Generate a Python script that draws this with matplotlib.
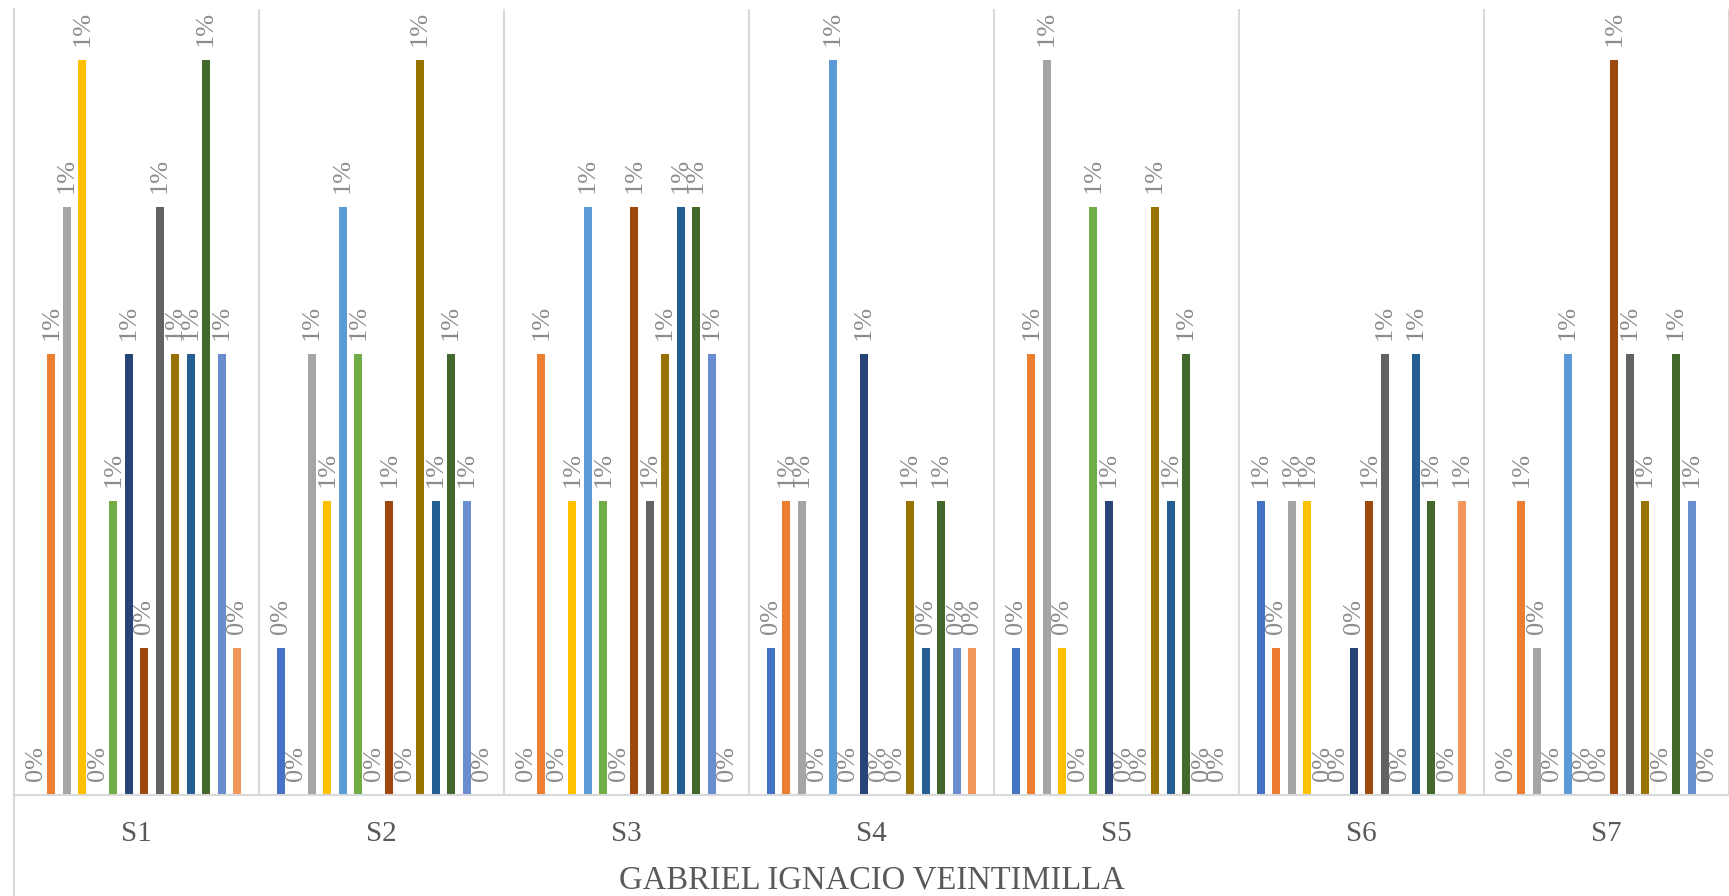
import matplotlib
matplotlib.use('agg')
import matplotlib.pyplot as plt
from matplotlib.lines import Line2D
import numpy as np

# categories and per-category counts (14 series each)
categories = ['S1', 'S2', 'S3', 'S4', 'S5', 'S6', 'S7']
s1 = [0, 3, 4, 5, 0, 2, 3, 1, 4, 3, 3, 5, 3, 1]
s2 = [1, 0, 3, 2, 4, 3, 0, 2, 0, 5, 2, 3, 2, 0]
s3 = [0, 3, 0, 2, 4, 2, 0, 4, 2, 3, 4, 4, 3, 0]
s4 = [1, 2, 2, 0, 5, 0, 3, 0, 0, 2, 1, 2, 1, 1]
s5 = [1, 3, 5, 1, 0, 4, 2, 0, 0, 4, 2, 3, 0, 0]
s6 = [2, 1, 2, 2, 0, 0, 1, 2, 3, 0, 3, 2, 0, 2]
s7 = [0, 2, 1, 0, 3, 0, 0, 5, 3, 2, 0, 3, 2, 0]
total = 360

colors = ['#4472C4', '#ED7D31', '#A5A5A5', '#FFC000', '#5B9BD5', '#70AD47',
          '#264478', '#9E480E', '#636363', '#997300', '#255E91', '#43682B',
          '#698ED0', '#F1975A']

title = 'GABRIEL IGNACIO VEINTIMILLA'

values = np.array([s1, s2, s3, s4, s5, s6, s7]).T / total  # series x category

plt.rcParams['font.family'] = ['Liberation Serif', 'DejaVu Serif']
W, H = 1729, 896
fig = plt.figure(figsize=(W / 100, H / 100), dpi=100)
left, bottom, top = 14, 795, 9
ax = fig.add_axes([left / W, (H - bottom) / H, (W - left) / W, (bottom - top) / H])

n = values.shape[0]
slot = 15.46 / 245
bar_w = 8 / 245
x = np.arange(len(categories))
grid_c = '#D9D9D9'

for k in np.arange(-0.5, len(categories), 1.0):
    ax.axvline(k, color=grid_c, lw=1.5, zorder=0)

for j in range(n):
    xs = x + (j - (n - 1) / 2) * slot
    bars = ax.bar(xs, values[j], width=bar_w, color=colors[j], zorder=2)
    for b, v in zip(bars, values[j]):
        ax.annotate('{:.0%}'.format(v), (b.get_x() + b.get_width() / 2, v),
                    xytext=(0, 10), textcoords='offset points',
                    rotation=90, ha='center', va='bottom',
                    fontsize=19, color='#8C8C8C', zorder=3)

ax.set_xlim(-0.5, len(categories) - 0.5)
ax.set_ylim(0, 5.347 / total)
ax.set_yticks([])
ax.set_xticks(x)
ax.set_xticklabels(categories, fontsize=21, color='#595959')
ax.tick_params(axis='x', length=0, pad=19)
for side in ['top', 'right', 'left']:
    ax.spines[side].set_visible(False)
ax.spines['bottom'].set_color(grid_c)
ax.spines['bottom'].set_linewidth(1.5)

# left boundary line running down through the label area
fig.add_artist(Line2D([left / W, left / W], [0, (H - top) / H],
                      color=grid_c, lw=1.5))

fig.text((left + W) / 2 / W, (H - 880) / H, title, ha='center', va='center',
         fontsize=23.5, color='#595959')

fig.savefig('out.png', dpi=100)
